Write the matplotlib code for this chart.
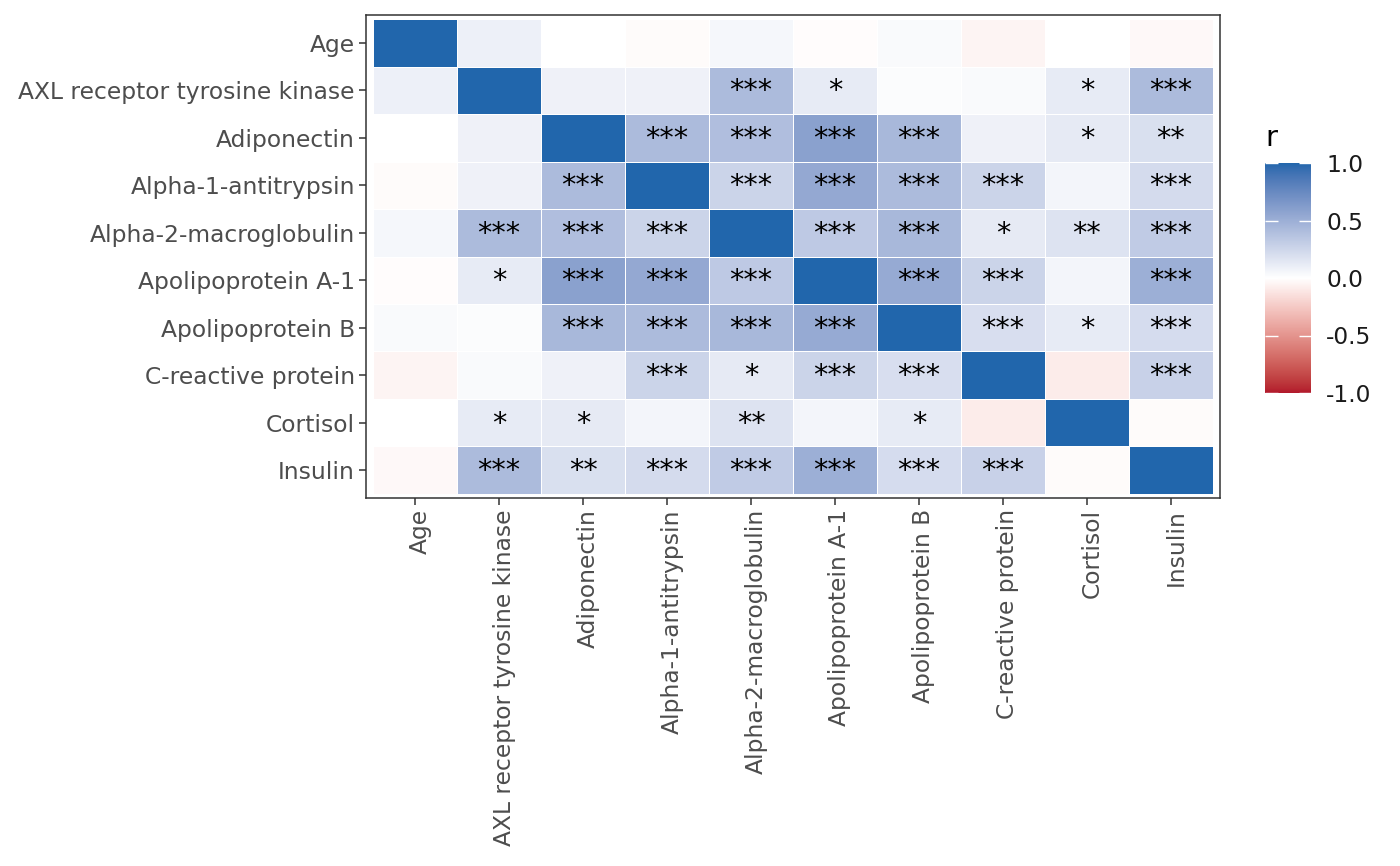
import numpy as np
import matplotlib
matplotlib.use("Agg")
import matplotlib.pyplot as plt
import matplotlib.transforms as mtransforms
from matplotlib.colors import ListedColormap, Normalize

# ---------------- data ----------------
variables = ["Age", "AXL receptor tyrosine kinase", "Adiponectin", "Alpha-1-antitrypsin",
             "Alpha-2-macroglobulin", "Apolipoprotein A-1", "Apolipoprotein B",
             "C-reactive protein", "Cortisol", "Insulin"]

r_age      = [1.00, 0.09, 0.00, -0.02, 0.05, -0.01, 0.03, -0.05, 0.00, -0.03]
r_axl      = [0.09, 1.00, 0.08, 0.08, 0.42, 0.12, 0.02, 0.03, 0.12, 0.42]
r_adipo    = [0.00, 0.08, 1.00, 0.42, 0.40, 0.59, 0.44, 0.08, 0.13, 0.19]
r_a1at     = [-0.02, 0.08, 0.42, 1.00, 0.26, 0.54, 0.42, 0.26, 0.06, 0.22]
r_a2m      = [0.05, 0.42, 0.40, 0.26, 1.00, 0.33, 0.44, 0.13, 0.17, 0.32]
r_apoa1    = [-0.01, 0.12, 0.59, 0.54, 0.33, 1.00, 0.53, 0.26, 0.06, 0.50]
r_apob     = [0.03, 0.02, 0.44, 0.42, 0.44, 0.53, 1.00, 0.20, 0.12, 0.21]
r_crp      = [-0.05, 0.03, 0.08, 0.26, 0.13, 0.26, 0.20, 1.00, -0.09, 0.28]
r_cortisol = [0.00, 0.12, 0.13, 0.06, 0.17, 0.06, 0.12, -0.09, 1.00, -0.02]
r_insulin  = [-0.03, 0.42, 0.19, 0.22, 0.32, 0.50, 0.21, 0.28, -0.02, 1.00]

s_age      = ["", "", "", "", "", "", "", "", "", ""]
s_axl      = ["", "", "", "", "***", "*", "", "", "*", "***"]
s_adipo    = ["", "", "", "***", "***", "***", "***", "", "*", "**"]
s_a1at     = ["", "", "***", "", "***", "***", "***", "***", "", "***"]
s_a2m      = ["", "***", "***", "***", "", "***", "***", "*", "**", "***"]
s_apoa1    = ["", "*", "***", "***", "***", "", "***", "***", "", "***"]
s_apob     = ["", "", "***", "***", "***", "***", "", "***", "*", "***"]
s_crp      = ["", "", "", "***", "*", "***", "***", "", "", "***"]
s_cortisol = ["", "*", "*", "", "**", "", "*", "", "", ""]
s_insulin  = ["", "***", "**", "***", "***", "***", "***", "***", "", ""]

legend_ticks = [-1.0, -0.5, 0.0, 0.5, 1.0]

R = np.array([r_age, r_axl, r_adipo, r_a1at, r_a2m, r_apoa1, r_apob, r_crp, r_cortisol, r_insulin])
S = [s_age, s_axl, s_adipo, s_a1at, s_a2m, s_apoa1, s_apob, s_crp, s_cortisol, s_insulin]

# ---------------- Lab-interpolated diverging palette (like ggplot gradient2) ----------------
def hex2rgb(h):
    h = h.lstrip("#")
    return np.array([int(h[i:i + 2], 16) / 255 for i in (0, 2, 4)])

M = np.array([[0.4124564, 0.3575761, 0.1804375],
              [0.2126729, 0.7151522, 0.0721750],
              [0.0193339, 0.1191920, 0.9503041]])
WP = np.array([0.95047, 1.0, 1.08883])

def rgb2lab(c):
    c = np.where(c <= 0.04045, c / 12.92, ((c + 0.055) / 1.055) ** 2.4)
    xyz = M @ c / WP
    f = np.where(xyz > (6 / 29) ** 3, np.cbrt(xyz), xyz / (3 * (6 / 29) ** 2) + 4 / 29)
    return np.array([116 * f[1] - 16, 500 * (f[0] - f[1]), 200 * (f[1] - f[2])])

def lab2rgb(lab):
    L, a, b = lab
    fy = (L + 16) / 116
    fx = fy + a / 500
    fz = fy - b / 200
    f = np.array([fx, fy, fz])
    xyz = np.where(f > 6 / 29, f ** 3, 3 * (6 / 29) ** 2 * (f - 4 / 29)) * WP
    c = np.linalg.solve(M, xyz)
    c = np.clip(c, 0, 1)
    c = np.where(c <= 0.0031308, 12.92 * c, 1.055 * c ** (1 / 2.4) - 0.055)
    return np.clip(c, 0, 1)

low, mid, high = rgb2lab(hex2rgb("#B2182B")), rgb2lab(hex2rgb("#FFFFFF")), rgb2lab(hex2rgb("#2166AC"))
cols = []
for t in np.linspace(-1, 1, 513):
    if t < 0:
        lab = mid + (low - mid) * (-t)
    else:
        lab = mid + (high - mid) * t
    cols.append(lab2rgb(lab))
cmap = ListedColormap(cols)
norm = Normalize(-1, 1)

# ---------------- figure ----------------
W, H = 1400, 866
fig = plt.figure(figsize=(W / 100, H / 100), dpi=100)
fig.patch.set_facecolor("white")

ax = fig.add_axes([366 / W, 1 - 498 / H, (1220 - 366) / W, (498 - 15) / H])
n = len(variables)
edges = np.arange(n + 1) - 0.5
mesh = ax.pcolormesh(edges, edges, R, cmap=cmap, norm=norm, edgecolors="white", linewidth=0.7)

for i in range(n):
    for j in range(n):
        if S[i][j]:
            ax.text(j, i + 0.02, S[i][j], ha="center", va="center", fontsize=20.5, color="black")

pad = 0.085
ax.set_xlim(-0.5 - pad, n - 0.5 + pad)
ax.set_ylim(n - 0.5 + pad, -0.5 - pad)
ax.set_xticks(range(n))
ax.set_yticks(range(n))
ax.set_xticklabels(variables, rotation=90, ha="center", va="top")
ax.set_yticklabels(variables)
ax.tick_params(axis="both", colors="#333333", length=5, width=1.1, labelsize=16.8,
               labelcolor="#4D4D4D", pad=3)
shift = mtransforms.ScaledTranslation(5 / 100, 0, fig.dpi_scale_trans)
for lbl in ax.get_xticklabels():
    lbl.set_transform(lbl.get_transform() + shift)
for sp in ax.spines.values():
    sp.set_color("#333333")
    sp.set_linewidth(1.1)

# ---------------- legend ----------------
cax = fig.add_axes([1265 / W, 1 - 393 / H, 46 / W, 230 / H])
cb = fig.colorbar(mesh, cax=cax, ticks=legend_ticks)
cb.outline.set_visible(False)
cb.ax.set_yticklabels([f"{t:.1f}" for t in legend_ticks])
cb.ax.yaxis.set_ticks_position("both")
cb.ax.tick_params(direction="in", length=9, width=1, colors="white", labelcolor="#1A1A1A",
                  labelsize=16.8, labelleft=False, labelright=True, pad=11)
fig.text(1265 / W, 1 - 138 / H, "r", fontsize=21, ha="left", va="center", color="black")

fig.savefig("out.png", dpi=100)
